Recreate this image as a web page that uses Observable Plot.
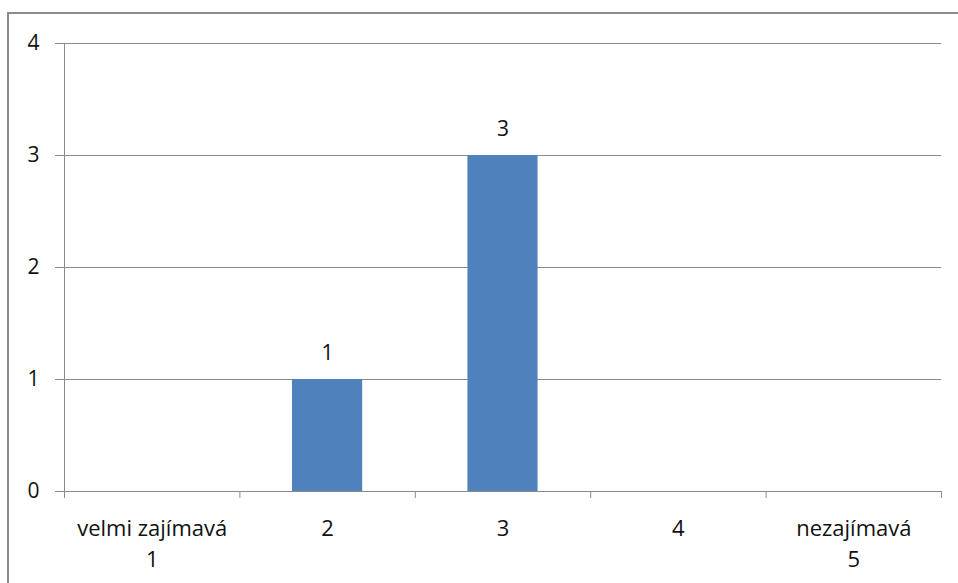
<!DOCTYPE html>
<html>
<head>
<meta charset="utf-8">
<script src="https://cdn.jsdelivr.net/npm/d3@7"></script>
<script src="https://cdn.jsdelivr.net/npm/@observablehq/plot@0.6"></script>
<style>
  html, body { margin: 0; padding: 0; background: #fff; }
  #wrap { position: relative; width: 958px; height: 583px; overflow: hidden; }
  #border { position: absolute; left: 7px; top: 12px; width: 1000px; height: 1000px; border: 2px solid #8a8a8a; box-sizing: border-box; pointer-events: none; }
  #chart { position: absolute; left: 0; top: 0; }
</style>
</head>
<body>
<div id="wrap"><div id="chart"></div><div id="border"></div></div>
<script>
const categories = ["velmi zajímavá\n1", "2", "3", "4", "nezajímavá\n5"];
const positions = [1, 2, 3, 4, 5];
const counts = [0, 1, 3, 0, 0];
const yTicks = [0, 1, 2, 3, 4];
const boundaries = [0.5, 1.5, 2.5, 3.5, 4.5, 5.5];

const data = positions.map((p, i) => ({pos: p, label: categories[i], count: counts[i]}));
const nonzero = data.filter(d => d.count > 0);

const grey = "#8a8a8a";
const font = "'Open Sans', 'Noto Sans', sans-serif";

const chart = Plot.plot({
  width: 958,
  height: 583,
  marginLeft: 64,
  marginRight: 17,
  marginTop: 43,
  marginBottom: 92,
  style: {fontFamily: font, fontSize: "22px", color: "#000", background: "transparent"},
  x: {domain: [0.5, 5.5], axis: null, label: null},
  y: {domain: [0, 4], axis: null, label: null},
  marks: [
    Plot.ruleY(yTicks, {stroke: grey, strokeWidth: 1}),
    Plot.axisY(yTicks, {tickSize: 9, tickPadding: 16, stroke: grey, strokeOpacity: 1, fill: "#111", fontSize: 21, label: null, tickFormat: d => String(d)}),
    Plot.ruleX([0.5], {stroke: grey, strokeWidth: 1}),
    Plot.rectY(nonzero, {x1: d => d.pos - 0.2, x2: d => d.pos + 0.2, y: "count", fill: "#4f81bd"}),
    Plot.text(nonzero, {x: "pos", y: "count", text: d => String(d.count), dy: -26, fontSize: 21, fill: "#111"}),
    Plot.axisX(boundaries, {tickSize: 7, stroke: grey, strokeOpacity: 1, label: null, tickFormat: () => ""}),
    Plot.axisX(positions, {tickSize: 0, tickPadding: 22, lineHeight: 1.42, fontSize: 22, fill: "#111", label: null, tickFormat: d => categories[positions.indexOf(d)]})
  ]
});
document.getElementById("chart").appendChild(chart);
</script>
</body>
</html>
